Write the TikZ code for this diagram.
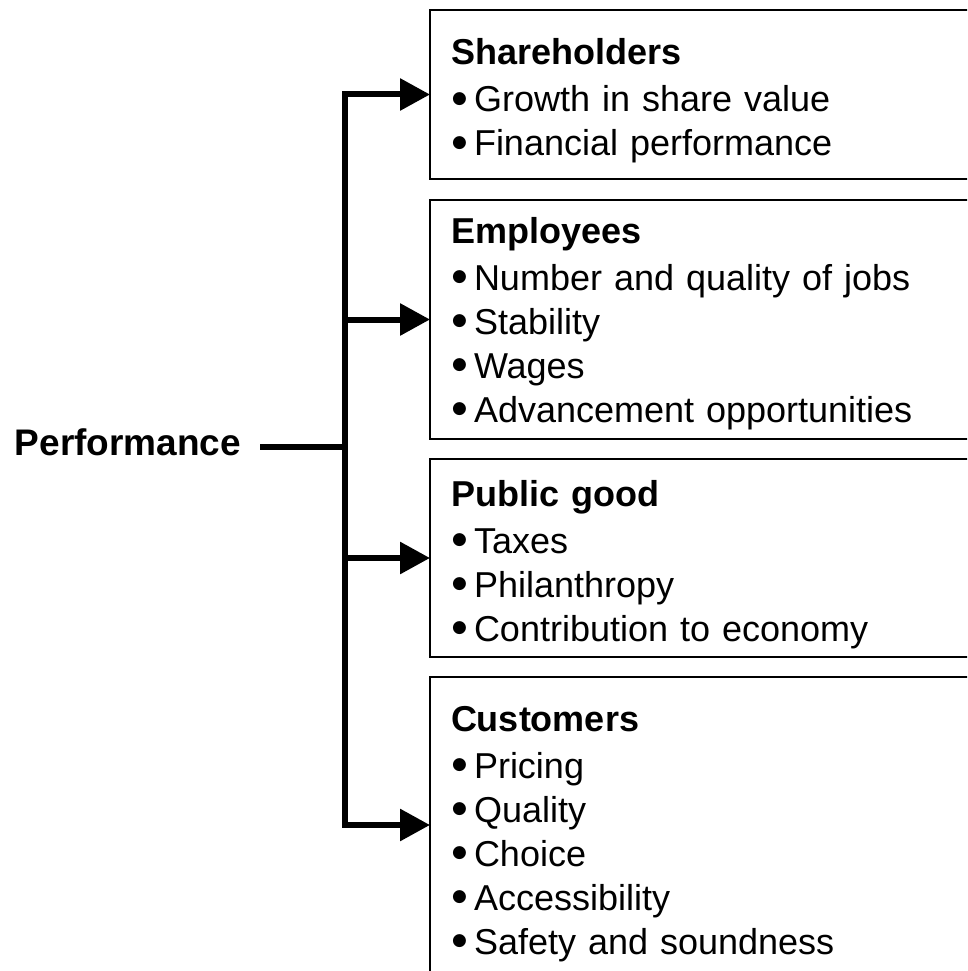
\documentclass[tikz,border=0pt]{standalone}
\usepackage{fontspec}
\setmainfont{Liberation Sans}
\newfontfamily\symfont{DejaVu Sans}
\usetikzlibrary{arrows.meta, positioning}
\newcommand{\bul}{\makebox[23pt][l]{\hspace{1pt}\raisebox{8.5pt}[0pt][0pt]{\symfont\fontsize{17}{17}\selectfont ●}}}
\tikzset{
    base/.style = {font=\fontsize{36}{44}\selectfont, outer sep=0pt},
    % Stakeholder boxes (cut off at the right edge)
    group/.style = {base, rectangle, draw=black, line width=2pt, align=left,
        text width=520pt, inner xsep=21pt, inner ysep=0pt},
    % Tree lines
    stem/.style  = {line width=6pt},
    arrow/.style = {stem, -{Triangle[length=30pt, width=31pt]}}
}

\begin{document}
\begin{tikzpicture}[x=1pt, y=-1pt]
    \useasboundingbox (0,0) rectangle (967,971);
    \clip (0,0) rectangle (967,971);

    % Root label
    \node (perf) [base, font=\fontsize{37}{44}\selectfont\bfseries, anchor=base east,
        inner xsep=19pt, inner ysep=0pt, text height=26pt, text depth=10pt] at (260,455) {Performance};

    % Stakeholder groups
    \node (shareholders) [group, anchor=north west, text height=55pt, text depth=114pt] at (430,10)
        {\textbf{Shareholders}\\[3pt]
         \bul Growth in share value\\
         \bul Financial performance};
    \node (employees) [group, below=21pt of shareholders, text height=43pt, text depth=196pt]
        {\textbf{Employees}\\[3pt]
         \bul Number and quality of jobs\\
         \bul Stability\\
         \bul Wages\\
         \bul Advancement opportunities};
    \node (publicgood) [group, below=20pt of employees, text height=47pt, text depth=151pt]
        {\textbf{Public good}\\[3pt]
         \bul Taxes\\
         \bul Philanthropy\\
         \bul Contribution to economy};
    \node (customers) [group, below=20pt of publicgood, text height=54pt, text depth=242pt]
        {\textbf{Customers}\\[3pt]
         \bul Pricing\\
         \bul Quality\\
         \bul Choice\\
         \bul Accessibility\\
         \bul Safety and soundness};

    % Branching connectors
    \coordinate (fork) at (345,447);
    \draw [stem] (perf.east) -- (fork);
    \foreach \grp in {shareholders, employees, publicgood, customers}
        \draw [arrow] (fork) |- (\grp.west);
\end{tikzpicture}
\end{document}
